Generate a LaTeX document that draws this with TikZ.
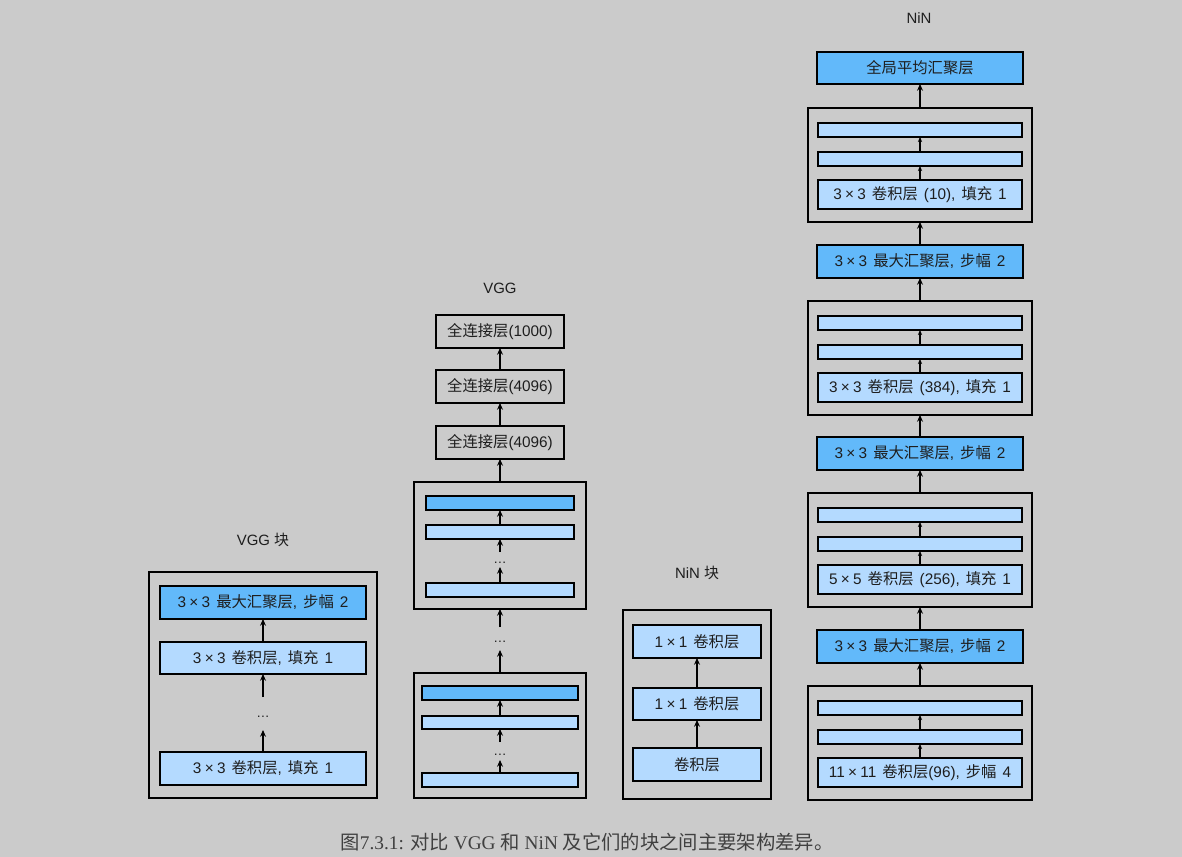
\documentclass[tikz,border=0pt]{standalone}
\usepackage{fontspec}
\setmainfont{Liberation Sans}
\newfontfamily\cjk{Noto Sans CJK SC}
\newfontfamily\capserif{Liberation Serif}
\usetikzlibrary{arrows.meta}

\definecolor{bg}{RGB}{203,203,203}
\definecolor{lightblue}{RGB}{180,218,255}
\definecolor{darkblue}{RGB}{98,185,250}
\definecolor{ink}{RGB}{30,30,30}

\newcommand\zh[1]{{\cjk #1}}
\newcommand\by{\kern2.5pt×\kern2.5pt}
\newcommand\widespaces{\spaceskip=4.5pt plus 1pt\relax}
\newcommand\vdotsrow{\smash{\raisebox{-3pt}{…}}}
% box from (x1,y1) to (x2,y2) in pixel units
\newcommand\bx[7]{\node[#2, minimum width={((#5)-(#3))*0.75pt}, minimum height={((#6)-(#4))*0.75pt}] (#1) at ({((#3)+(#5))/2},{((#4)+(#6))/2}) {#7};}

\tikzset{
  lay/.style={draw=black, line width=1.3pt, inner sep=0pt, outer sep=0pt, text=ink,
    font=\fontsize{11.5}{13}\selectfont\widespaces},
  conv/.style={lay, fill=lightblue},
  pool/.style={lay, fill=darkblue},
  fc/.style={lay},
  grp/.style={draw=black, line width=1.3pt, inner sep=0pt, outer sep=0pt},
  dotsn/.style={inner sep=0pt, outer sep=0pt, text=ink, font=\fontsize{10}{12}\selectfont},
  ttl/.style={text=ink, font=\fontsize{11.2}{13}\selectfont},
  bigarrow/.style={-{Stealth[length=5pt,width=4.4pt]}, line width=1.45pt},
  smallarrow/.style={-{Stealth[length=3.8pt,width=3.2pt]}, line width=1pt},
}

\begin{document}
\begin{tikzpicture}[x=0.75pt, y=-0.75pt]
\useasboundingbox (0,0) rectangle (1182,857);
\fill[bg] (0,0) rectangle (1182,857);

% ---------------- VGG block ----------------
\node[ttl] (vbt) at (263,540) {VGG \zh{块}};
\bx{vb}{grp}{149}{572}{377}{798}{}
\bx{vbpool}{pool}{160}{586}{366}{619}{3\by3 \zh{最大汇聚层}, \zh{步幅} 2}
\bx{vbconvA}{conv}{160}{642}{366}{674}{3\by3 \zh{卷积层}, \zh{填充} 1}
\bx{vbdots}{dotsn}{253}{697}{273}{730}{\vdotsrow}
\bx{vbconvB}{conv}{160}{752}{366}{785}{3\by3 \zh{卷积层}, \zh{填充} 1}
\draw[bigarrow] (vbconvA.north) -- (vbpool.south);
\draw[bigarrow] (vbdots.north) -- (vbconvA.south);
\draw[bigarrow] (vbconvB.north) -- (vbdots.south);

% ---------------- VGG network ----------------
\node[ttl] (vggt) at (500,288) {VGG};
\bx{fc3}{fc}{436}{315}{564}{348}{\zh{全连接层}(1000)}
\bx{fc2}{fc}{436}{370}{564}{403}{\zh{全连接层}(4096)}
\bx{fc1}{fc}{436}{426}{564}{459}{\zh{全连接层}(4096)}
\bx{ub}{grp}{414}{482}{586}{609}{}
\bx{ubA}{pool}{426}{496}{574}{510}{}
\bx{ubB}{conv}{426}{525}{574}{539}{}
\bx{ubdots}{dotsn}{490}{552}{510}{567}{\vdotsrow}
\bx{ubC}{conv}{426}{583}{574}{597}{}
\bx{middots}{dotsn}{490}{627}{510}{650}{\vdotsrow}
\bx{lb}{grp}{414}{673}{586}{798}{}
\bx{lbA}{pool}{422}{686}{578}{700}{}
\bx{lbB}{conv}{422}{716}{578}{729}{}
\bx{lbdots}{dotsn}{490}{742}{510}{760}{\vdotsrow}
\bx{lbC}{conv}{422}{773}{578}{787}{}
\draw[bigarrow] (fc2.north) -- (fc2.north |- fc3.south);
\draw[bigarrow] (fc1.north) -- (fc1.north |- fc2.south);
\draw[bigarrow] (ub.north) -- (ub.north |- fc1.south);
\draw[bigarrow] (ubB.north) -- (ubB.north |- ubA.south);
\draw[bigarrow] (ubdots.north) -- (ubdots.north |- ubB.south);
\draw[bigarrow] (ubC.north) -- (ubC.north |- ubdots.south);
\draw[bigarrow] (middots.north) -- (middots.north |- ub.south);
\draw[bigarrow] (lb.north) -- (lb.north |- middots.south);
\draw[bigarrow] (lbB.north) -- (lbB.north |- lbA.south);
\draw[bigarrow] (lbdots.north) -- (lbdots.north |- lbB.south);
\draw[bigarrow] (lbC.north) -- (lbC.north |- lbdots.south);

% ---------------- NiN block ----------------
\node[ttl] (nbt) at (697,573) {NiN \zh{块}};
\bx{nb}{grp}{623}{610}{771}{799}{}
\bx{nbA}{conv}{633}{625}{761}{658}{1\by1 \zh{卷积层}}
\bx{nbB}{conv}{633}{688}{761}{720}{1\by1 \zh{卷积层}}
\bx{nbC}{conv}{633}{748}{761}{781}{\zh{卷积层}}
\draw[bigarrow] (nbC.north) -- (nbB.south);
\draw[bigarrow] (nbB.north) -- (nbA.south);

% ---------------- NiN network ----------------
\node[ttl] (nint) at (919,18) {NiN};
\bx{gap}{pool}{817}{52}{1023}{84}{\zh{全局平均汇聚层}}
\foreach \k/\T/\lab in {
  1/108/{3\by3 \zh{卷积层} (10), \zh{填充} 1},
  2/301/{3\by3 \zh{卷积层} (384), \zh{填充} 1},
  3/493/{5\by5 \zh{卷积层} (256), \zh{填充} 1},
  4/686/{11\by11 \zh{卷积层}(96), \zh{步幅} 4}}{
  \bx{g\k}{grp}{808}{\T}{1032}{\T+114}{}
  \bx{g\k a}{conv}{818}{\T+15}{1022}{\T+29}{}
  \bx{g\k b}{conv}{818}{\T+44}{1022}{\T+58}{}
  \bx{g\k c}{conv}{818}{\T+72}{1022}{\T+101}{\lab}
  \draw[smallarrow] (g\k c.north) -- (g\k b.south);
  \draw[smallarrow] (g\k b.north) -- (g\k a.south);
}
\foreach \k/\P in {1/245, 2/437, 3/630}{
  \bx{p\k}{pool}{817}{\P}{1023}{\P+33}{3\by3 \zh{最大汇聚层}, \zh{步幅} 2}
}
\draw[bigarrow] (g1.north) -- (g1.north |- gap.south);
\draw[bigarrow] (p1.north) -- (p1.north |- g1.south);
\draw[bigarrow] (g2.north) -- (g2.north |- p1.south);
\draw[bigarrow] (p2.north) -- (p2.north |- g2.south);
\draw[bigarrow] (g3.north) -- (g3.north |- p2.south);
\draw[bigarrow] (p3.north) -- (p3.north |- g3.south);
\draw[bigarrow] (g4.north) -- (g4.north |- p3.south);

% ---------------- caption ----------------
\node[text=ink!85, font=\capserif\fontsize{14.5}{17}\selectfont] (cap) at (587,842)
  {\zh{图}7.3.1: \zh{对比} VGG \zh{和} NiN \zh{及它们的块之间主要架构差异。}};
\end{tikzpicture}
\end{document}
